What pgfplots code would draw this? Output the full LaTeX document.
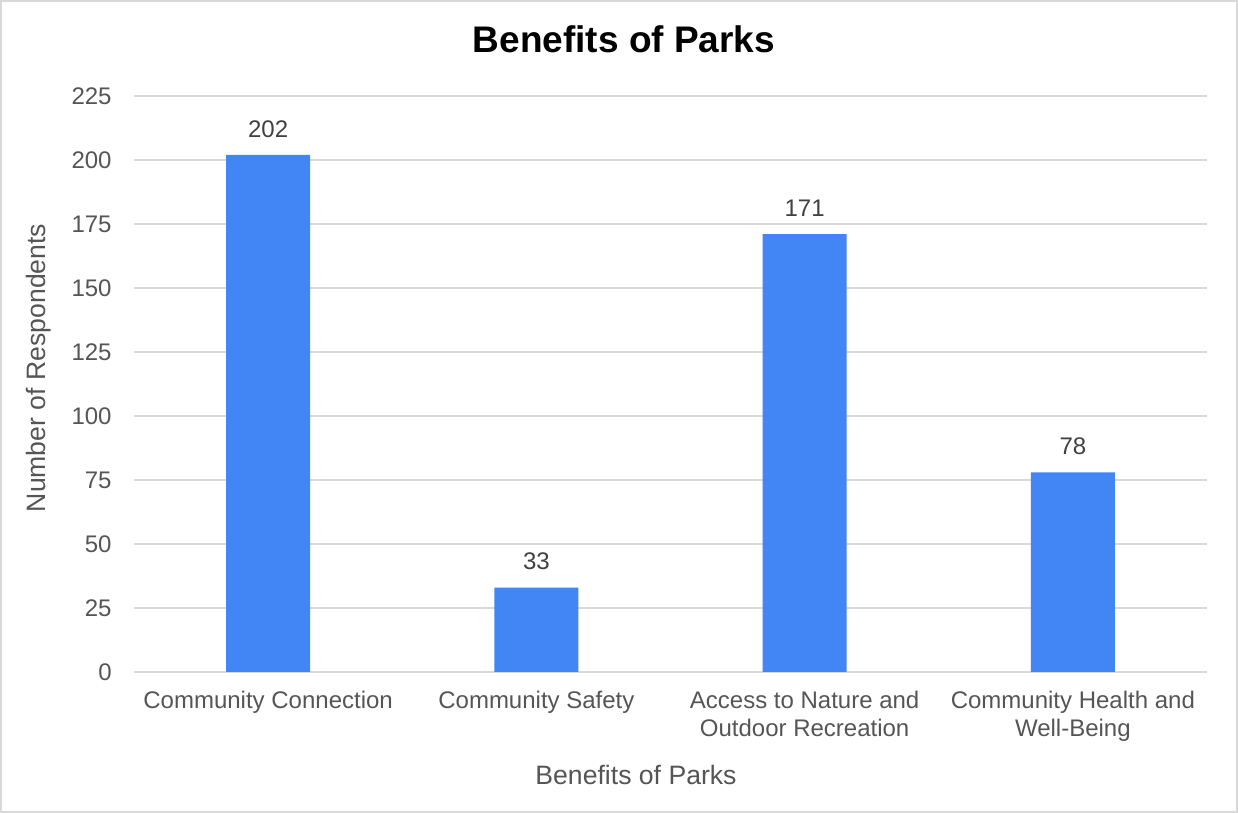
\documentclass[border=0pt]{standalone}
\usepackage{pgfplots}
\pgfplotsset{compat=1.18}
\usepackage{fontspec}
\setmainfont{Liberation Sans}
\definecolor{barblue}{HTML}{4285F4}
\definecolor{gridgray}{HTML}{D9D9D9}
\definecolor{ticktext}{HTML}{555555}
\definecolor{labeltext}{HTML}{404040}
\begin{document}
\begin{tikzpicture}
\path[use as bounding box] (0pt,0pt) rectangle (619pt,406.5pt);
\draw[gridgray, line width=1pt] (0.5pt,0.5pt) rectangle (618.5pt,406pt);
\begin{axis}[
  at={(67pt,70.5pt)}, anchor=south west,
  scale only axis, width=536.5pt, height=288pt,
  xmin=-0.5, xmax=3.5, ymin=0, ymax=225,
  ytick={0,25,...,225},
  xtick={0,1,2,3},
  xticklabels={Community Connection, Community Safety, {Access to Nature and\\Outdoor Recreation}, {Community Health and\\Well-Being}},
  /pgf/number format/assume math mode=true,
  axis line style={draw=none},
  major tick length=0pt,
  ymajorgrids, grid style={gridgray, line width=1pt},
  tick label style={font=\fontsize{12}{14}\selectfont, text=ticktext},
  yticklabel style={anchor=east, inner sep=0pt, xshift=-11pt},
  xticklabel style={anchor=north, inner sep=0pt, yshift=-9.5pt, align=center},
  nodes near coords,
  every node near coord/.append style={font=\fontsize{12}{14}\selectfont, text=labeltext, anchor=south, inner sep=0pt, yshift=8.5pt},
]
\addplot[ybar, bar width=42pt, fill=barblue, draw=none] coordinates {(0,202) (1,33) (2,171) (3,78)};
\end{axis}
\node[anchor=base, font=\fontsize{18.5}{22}\selectfont\bfseries] at (312pt,380pt) {Benefits of Parks};
\node[anchor=base, font=\fontsize{13.3}{16}\selectfont, text=ticktext] at (318pt,14pt) {Benefits of Parks};
\node[anchor=base, rotate=90, font=\fontsize{13.3}{16}\selectfont, text=ticktext] at (23pt,222.5pt) {Number of Respondents};
\end{tikzpicture}
\end{document}
